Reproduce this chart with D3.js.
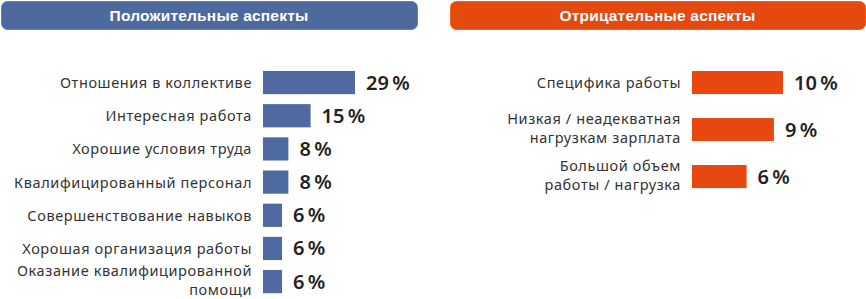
<!DOCTYPE html>
<html>
<head>
<meta charset="utf-8">
<script src="https://cdn.jsdelivr.net/npm/d3@7"></script>
<style>
  body { margin: 0; background: #fff; }
  .label { font-family: "Noto Sans", sans-serif; font-size: 14.5px; letter-spacing: 0.6px; fill: #333; }
  .value { font-family: "Noto Sans", sans-serif; font-size: 20px; font-weight: 600; fill: #222; }
  .head { font-family: "Liberation Sans", Arial, sans-serif; font-size: 15.5px; font-weight: bold; fill: #fff; letter-spacing: 0.2px; }
</style>
</head>
<body>
<script>
// Chart data
var posLabels = [["Отношения в коллективе"], ["Интересная работа"], ["Хорошие условия труда"],
                 ["Квалифицированный персонал"], ["Совершенствование навыков"],
                 ["Хорошая организация работы"], ["Оказание квалифицированной", "помощи"]];
var posValues = [29, 15, 8, 8, 6, 6, 6];

var negLabels = [["Специфика работы"], ["Низкая / неадекватная", "нагрузкам зарплата"],
                 ["Большой объем", "работы / нагрузка"]];
var negValues = [10, 9, 6];

var titles = ["Положительные аспекты", "Отрицательные аспекты"];

var width = 866, height = 299;

var svg = d3.select("body").append("svg")
    .attr("width", width)
    .attr("height", height);

// panel settings
var panels = [
  {title: titles[0], labels: posLabels, values: posValues, color: "#4e6aa0", headColor: "#4d699d",
   hx: 1, hw: 416, barX: 263, labelX: 252, maxW: 92, domMax: 29,
   yRange: [61, 303.2], padIn: 0.3, padOut: 0.3},
  {title: titles[1], labels: negLabels, values: negValues, color: "#e6480f", headColor: "#e4490f",
   hx: 450, hw: 415, barX: 692, labelX: 681, maxW: 91, domMax: 10,
   yRange: [59.3, 199.8], padIn: 0.51, padOut: 0.25}
];

panels.forEach(function(p) {
  var g = svg.append("g");

  // header
  g.append("rect")
    .attr("x", p.hx + 0.5).attr("y", 1.5)
    .attr("width", p.hw).attr("height", 28)
    .attr("rx", 6)
    .style("fill", p.headColor)
    .style("stroke", d3.color(p.headColor).brighter(0.6))
    .style("stroke-width", 1);
  g.append("text")
    .attr("class", "head")
    .attr("x", p.hx + p.hw / 2)
    .attr("y", 21)
    .attr("text-anchor", "middle")
    .text(p.title);

  var idx = d3.range(p.values.length);
  var y = d3.scaleBand().domain(idx).range(p.yRange)
      .paddingInner(p.padIn).paddingOuter(p.padOut);
  var x = d3.scaleLinear().domain([0, p.domMax]).range([0, p.maxW]);

  g.selectAll("rect.bar")
    .data(idx)
    .enter()
    .append("rect")
    .attr("class", "bar")
    .attr("x", p.barX)
    .attr("y", function(i) { return y(i); })
    .attr("width", function(i) { return x(p.values[i]); })
    .attr("height", y.bandwidth())
    .style("fill", p.color);

  g.selectAll("text.value")
    .data(idx)
    .enter()
    .append("text")
    .attr("class", "value")
    .attr("x", function(i) { return p.barX + x(p.values[i]) + 11; })
    .attr("y", function(i) { return y(i) + y.bandwidth() / 2 + 7; })
    .text(function(i) { return p.values[i] + "\u202F%"; });

  // category labels, one text per line
  var lineH = 19;
  idx.forEach(function(i) {
    var lines = p.labels[i];
    var y0 = y(i) + y.bandwidth() / 2 + 5.5 - (lines.length - 1) * (lineH / 2 + 2);
    g.selectAll(null)
      .data(lines)
      .enter()
      .append("text")
      .attr("class", "label")
      .attr("text-anchor", "end")
      .attr("x", p.labelX)
      .attr("y", function(d, j) { return y0 + j * lineH; })
      .text(function(d) { return d; });
  });
});
</script>
</body>
</html>
